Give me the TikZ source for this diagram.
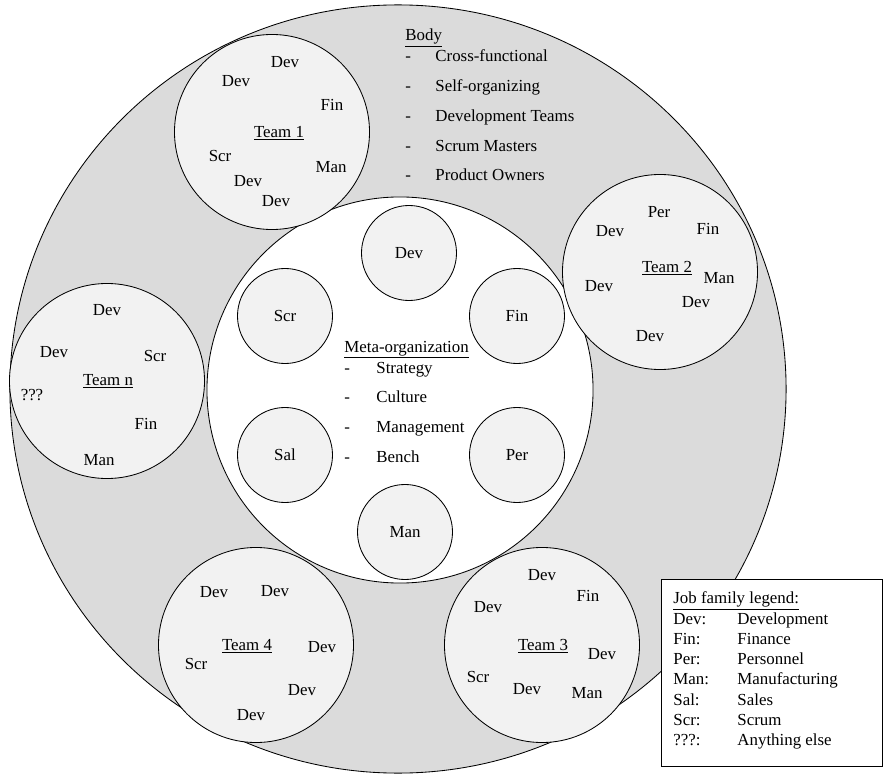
\documentclass[tikz,border=0pt]{standalone}
\usepackage{fontspec}
\setmainfont{Liberation Serif}
\usepackage{xcolor}
\usetikzlibrary{shapes.geometric}

\definecolor{bodygray}{gray}{0.86}
\definecolor{teamgray}{gray}{0.95}

\begin{document}
\begin{tikzpicture}[
            x = 0.025cm, y = -0.025cm, % one unit = one pixel
            font = \fontsize{12}{14.4}\selectfont,
            semithick
            , every text node part/.style={align=left}
        ]

        \tikzstyle{body}=[
            draw = black,
            fill = bodygray,
            ellipse,
            inner sep = 0pt,
            minimum width = 19.4cm,
            minimum height = 19.2cm
        ]
        \tikzstyle{core}=[draw = black, fill = white, circle, inner sep = 0pt, minimum size = 9.65cm]
        \tikzstyle{team}=[draw = black, fill = teamgray, circle, inner sep = 0pt, minimum size = 4.875cm]
        \tikzstyle{dept}=[draw = black, fill = teamgray, circle, inner sep = 0pt, minimum size = 2.375cm]
        \tikzstyle{item}=[anchor = base west, inner sep = 0pt]

        \useasboundingbox (0,0) rectangle (884,775);

        \node[body] (BODY) at (398,389) {};
        \node[core] (META) at (400,390) {};

        % job families of the meta-organization
        \node[dept] (MDEV) at (409,253) {Dev};
        \node[dept] (MFIN) at (517,316) {Fin};
        \node[dept] (MPER) at (517,455) {Per};
        \node[dept] (MMAN) at (405,532) {Man};
        \node[dept] (MSAL) at (285,455) {Sal};
        \node[dept] (MSCR) at (285,316) {Scr};

        \node[item] (METAH) at (344,352) {\underline{Meta-organization}};
        \node[item] (M1) at (344,373) {\makebox[0.8cm][l]{-}Strategy};
        \node[item] (M2) at (344,402) {\makebox[0.8cm][l]{-}Culture};
        \node[item] (M3) at (344,432) {\makebox[0.8cm][l]{-}Management};
        \node[item] (M4) at (344,462) {\makebox[0.8cm][l]{-}Bench};

        \node[item] (BODYH) at (405,41) {\underline{Body}};
        \node[item] (B1) at (405,62) {\makebox[0.75cm][l]{-}Cross-functional};
        \node[item] (B2) at (405,92) {\makebox[0.75cm][l]{-}Self-organizing};
        \node[item] (B3) at (405,122) {\makebox[0.75cm][l]{-}Development Teams};
        \node[item] (B4) at (405,152) {\makebox[0.75cm][l]{-}Scrum Masters};
        \node[item] (B5) at (405,181) {\makebox[0.75cm][l]{-}Product Owners};

        % teams
        \node[team] (T1) at (272,132) {};
        \node[team] (T2) at (660,272) {};
        \node[team] (T3) at (542,645) {};
        \node[team] (T4) at (256,645) {};
        \node[team] (TN) at (107,381) {};

        \node (T1L) at (279,133) {\underline{Team 1}};
        \node (T1a) at (285,62) {Dev};
        \node (T1b) at (236,81) {Dev};
        \node (T1c) at (332,105) {Fin};
        \node (T1d) at (220,156) {Scr};
        \node (T1e) at (331,167) {Man};
        \node (T1f) at (248,181) {Dev};
        \node (T1g) at (276,201) {Dev};

        \node (T2L) at (667,268) {\underline{Team 2}};
        \node (T2a) at (659,212) {Per};
        \node (T2b) at (610,231) {Dev};
        \node (T2c) at (708,229) {Fin};
        \node (T2d) at (719,278) {Man};
        \node (T2e) at (599,286) {Dev};
        \node (T2f) at (696,302) {Dev};
        \node (T2g) at (650,336) {Dev};

        \node (T3L) at (543,646) {\underline{Team 3}};
        \node (T3a) at (542,575) {Dev};
        \node (T3b) at (588,596) {Fin};
        \node (T3c) at (488,607) {Dev};
        \node (T3d) at (602,654) {Dev};
        \node (T3e) at (478,677) {Scr};
        \node (T3f) at (527,689) {Dev};
        \node (T3g) at (587,693) {Man};

        \node (T4L) at (247,646) {\underline{Team 4}};
        \node (T4a) at (214,592) {Dev};
        \node (T4b) at (275,591) {Dev};
        \node (T4c) at (322,647) {Dev};
        \node (T4d) at (196,664) {Scr};
        \node (T4e) at (302,690) {Dev};
        \node (T4f) at (251,715) {Dev};

        \node (TNL) at (108,381) {\underline{Team n}};
        \node (TNa) at (107,310) {Dev};
        \node (TNb) at (54,352) {Dev};
        \node (TNc) at (155,356) {Scr};
        \node (TNd) at (32,395) {???};
        \node (TNe) at (146,424) {Fin};
        \node (TNf) at (99,460) {Man};

        % legend
        \node[draw = black, fill = white, inner sep = 0pt, anchor = north west,
              minimum width = 5.525cm, minimum height = 4.675cm] (LEG) at (661,579) {};
        \node[anchor = north west, inner sep = 0pt] (LEGT) at (673,589) {%
            \begin{tabular}{@{}p{1.6cm}@{}l@{}}
                \multicolumn{2}{@{}l@{}}{\underline{Job family legend:}} \\
                Dev: & Development \\
                Fin: & Finance \\
                Per: & Personnel \\
                Man: & Manufacturing \\
                Sal: & Sales \\
                Scr: & Scrum \\
                ???: & Anything else
            \end{tabular}};

    \end{tikzpicture}
\end{document}
